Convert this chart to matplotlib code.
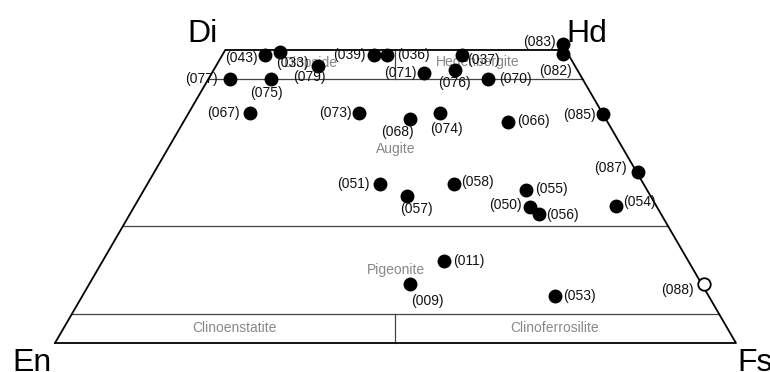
import matplotlib
matplotlib.use('Agg')
import matplotlib.pyplot as plt

plt.rcParams['font.family'] = ['Liberation Sans', 'DejaVu Sans']

# Pyroxene analyses: Wo and Fs in mol %, En is the rest
samples = ['(043)', '(033)', '(079)', '(077)', '(075)', '(067)', '(073)', '(039)',
           '(036)', '(037)', '(071)', '(076)', '(070)', '(083)', '(082)', '(085)',
           '(068)', '(074)', '(066)', '(051)', '(057)', '(058)', '(055)', '(050)',
           '(056)', '(087)', '(054)', '(011)', '(009)', '(053)', '(088)']
wo = [49.2, 49.6, 47.3, 45.0, 45.0, 39.3, 39.2, 49.2,
      49.2, 49.2, 46.1, 46.6, 45.1, 51.1, 49.4, 39.1,
      38.2, 39.2, 37.7, 27.1, 25.1, 27.1, 26.1, 23.2,
      22.0, 29.1, 23.4, 14.0, 10.1, 8.0, 10.1]
fs = [6.2, 8.2, 15.0, 3.2, 9.2, 9.0, 25.1, 22.2,
      24.1, 35.2, 31.1, 35.4, 41.1, 49.1, 49.9, 60.9,
      33.0, 36.9, 47.6, 34.2, 39.1, 45.0, 56.1, 58.1,
      60.1, 71.1, 70.7, 50.1, 47.1, 69.4, 90.2]
open_samples = ['(088)']

# Field names of the quadrilateral
fields = ['Diopside', 'Hedenbergite', 'Augite', 'Pigeonite', 'Clinoenstatite', 'Clinoferrosilite']
corners = ['Di', 'Hd', 'En', 'Fs']

# label placement (pixel offset from the dot, alignment)
label_pos = {
    '(043)': (-7, -3, 'right'), '(033)': (-4, -11, 'left'), '(079)': (-9, -11, 'center'),
    '(077)': (-12, 0, 'right'), '(075)': (-4, -14, 'center'), '(067)': (-10, 0, 'right'),
    '(073)': (-8, 0, 'right'), '(039)': (-8, 0, 'right'), '(036)': (10, 0, 'left'),
    '(037)': (5, -5, 'left'), '(071)': (-7, 0, 'right'), '(076)': (0, -13, 'center'),
    '(070)': (11, 0, 'left'), '(083)': (-8, 2, 'right'), '(082)': (-7, -17, 'center'),
    '(085)': (-7, -1, 'right'), '(068)': (-12, -13, 'center'), '(074)': (7, -16, 'center'),
    '(066)': (10, 1, 'left'), '(051)': (-11, 0, 'right'), '(057)': (10, -13, 'center'),
    '(058)': (7, 2, 'left'), '(055)': (9, 1, 'left'), '(050)': (-8, 2, 'right'),
    '(056)': (7, -1, 'left'), '(087)': (-11, 4, 'right'), '(054)': (7, 4, 'left'),
    '(011)': (9, 0, 'left'), '(009)': (17, -17, 'center'), '(053)': (8, 0, 'left'),
    '(088)': (-10, -6, 'right'),
}


def to_xy(w, f):
    # x runs En -> Fs along the base, y is Wo
    return f + w / 2.0, w


fig = plt.figure(figsize=(7.7, 3.72), dpi=100)
ax = fig.add_axes([0, 0, 1, 1])
ax.set_xlim(-8.08, 105.0)
ax.set_ylim(-4.95, 58.53)
ax.axis('off')

# Outline of the quadrilateral
ox = [0, 100, 75, 25, 0]
oy = [0, 0, 50, 50, 0]
ax.plot(ox, oy, color='black', lw=1.3, zorder=2)

# Inner field boundaries
for w in [45, 20, 5]:
    ax.plot([w / 2.0, 100 - w / 2.0], [w, w], color='#444444', lw=0.9, zorder=1)
ax.plot([50, 50], [0, 5], color='#444444', lw=0.9, zorder=1)
ax.plot([50, 50], [45, 50], color='#444444', lw=0.9, zorder=1)

# Field names
gray = '#888888'
field_xy = [(37.6, 47.7), (62.1, 48.0), (50.0, 33.1), (50.1, 12.5), (26.3, 2.5), (73.3, 2.5)]
for name, (fx, fy) in zip(fields, field_xy):
    ax.text(fx, fy, name, color=gray, fontsize=10, ha='center', va='center', zorder=3)

# Corner labels
corner_xy = [(21.7, 51.3, 'center'), (78.1, 51.3, 'center'), (-6.3, -4.8, 'left'), (100.2, -4.8, 'left')]
for name, (cx, cy, ha) in zip(corners, corner_xy):
    ax.text(cx, cy, name, fontsize=23, ha=ha, va='baseline', color='black')

# Data points and labels
for s, w, f in zip(samples, wo, fs):
    x, y = to_xy(w, f)
    if s in open_samples:
        ax.plot(x, y, 'o', ms=9, mfc='white', mec='black', mew=1.3, zorder=5)
    else:
        ax.plot(x, y, 'o', ms=9, color='black', zorder=5)
    dx, dy, ha = label_pos[s]
    ax.annotate(s, (x, y), xytext=(dx, dy), textcoords='offset pixels',
                ha=ha, va='center', fontsize=10, color='#111111', zorder=6)

plt.savefig('out.png', dpi=100)
